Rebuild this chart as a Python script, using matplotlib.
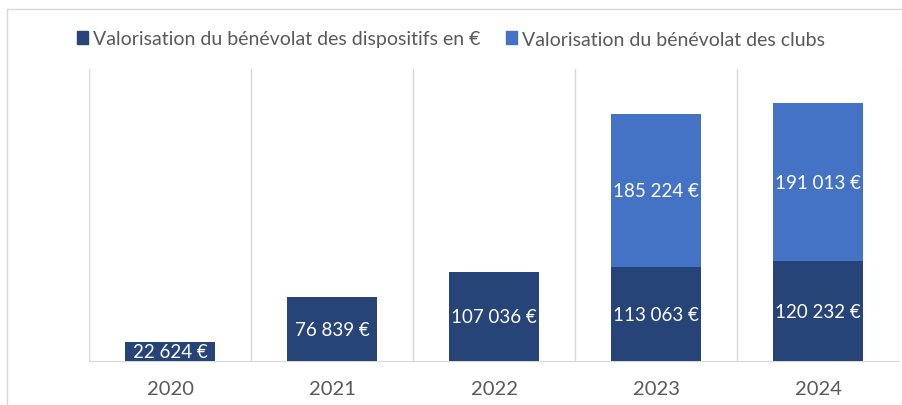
import matplotlib.pyplot as plt
from matplotlib.lines import Line2D
import numpy as np

# Data
years = ['2020', '2021', '2022', '2023', '2024']
dispositifs = [22624, 76839, 107036, 113063, 120232]
clubs = [0, 0, 0, 185224, 191013]

dark = '#264478'
light = '#4472C4'
grid = '#D9D9D9'
txt = '#595959'


def fmt(v):
    return '{:,}'.format(v).replace(',', ' ') + ' €'


fig = plt.figure(figsize=(9.02, 4.06), dpi=100)
W, H = 902, 406
ax = fig.add_axes([89 / W, (H - 362) / H, (899 - 89) / W, (362 - 70) / H])

x = np.arange(len(years))
width = 0.56
ax.bar(x, dispositifs, width, color=dark, zorder=3,
       label='Valorisation du bénévolat des dispositifs en €')
ax.bar(x, clubs, width, bottom=dispositifs, color=light, zorder=3,
       label='Valorisation du bénévolat des clubs')

# data labels
for i in range(len(years)):
    ax.text(x[i], dispositifs[i] / 2, fmt(dispositifs[i]), ha='center', va='center',
            color='white', fontsize=13.5, family='Lato', zorder=4)
    if clubs[i] > 0:
        ax.text(x[i], dispositifs[i] + clubs[i] / 2, fmt(clubs[i]), ha='center',
                va='center', color='white', fontsize=13.5, family='Lato', zorder=4)

ax.set_xlim(-0.5, len(years) - 0.5)
ax.set_ylim(0, 352000)
for b in np.arange(-0.5, len(years), 1.0):
    ax.axvline(b, color=grid, lw=1, zorder=1)

for s in ['top', 'right', 'left']:
    ax.spines[s].set_visible(False)
ax.spines['bottom'].set_color(grid)
ax.set_yticks([])
ax.set_xticks(x)
ax.set_xticklabels(years, color=txt, fontsize=14.5, family='Lato')
ax.tick_params(axis='x', length=0, pad=14)

handles = [plt.Rectangle((0, 0), 1, 1, color=dark), plt.Rectangle((0, 0), 1, 1, color=light)]
fig.legend(handles, ['Valorisation du bénévolat des dispositifs en €',
                     'Valorisation du bénévolat des clubs'],
           loc='center', bbox_to_anchor=(0.5, (H - 40) / H), ncol=2, frameon=False,
           prop={'family': 'Lato', 'size': 14}, labelcolor=txt,
           handlelength=0.6, handleheight=0.6, handletextpad=0.25, columnspacing=1.3)

# chart frame
fig.add_artist(Line2D([7 / W, 1], [(H - 10) / H] * 2, color=grid, lw=1))
fig.add_artist(Line2D([7 / W] * 2, [0, (H - 10) / H], color=grid, lw=1))

fig.savefig('out.png', dpi=100)
